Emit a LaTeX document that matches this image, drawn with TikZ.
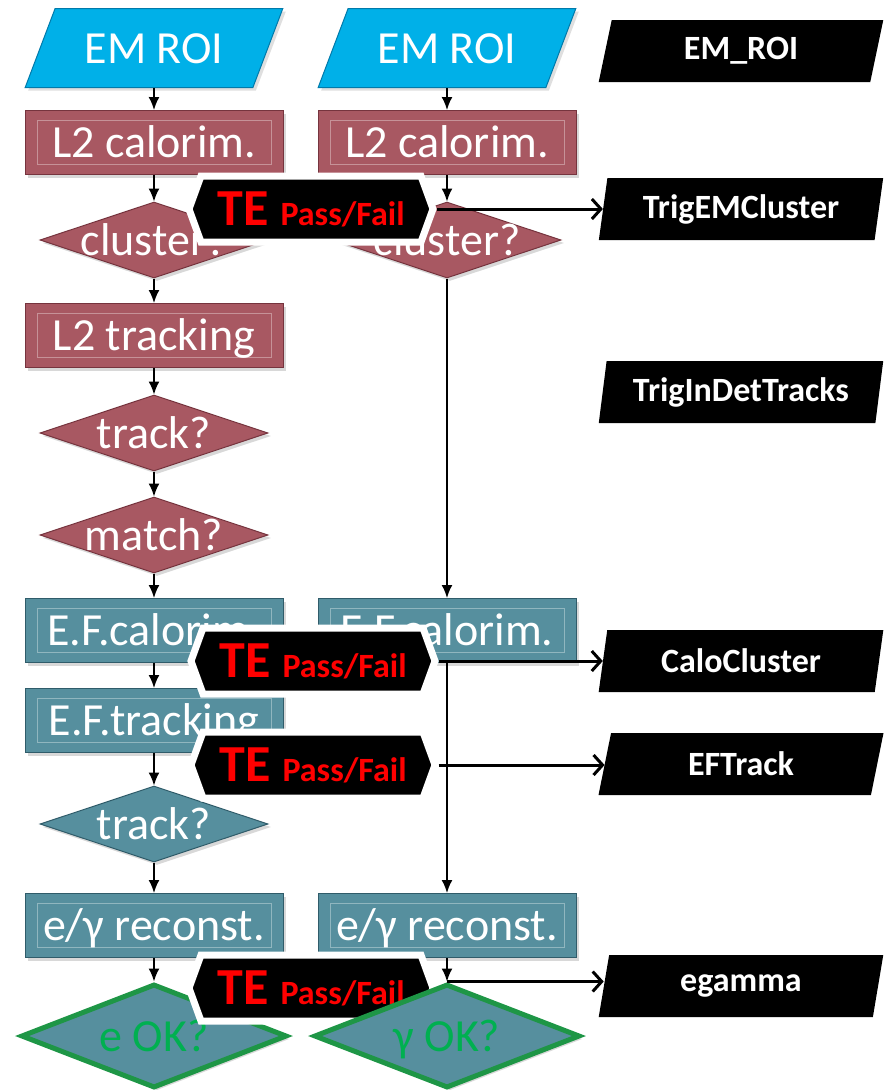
\documentclass[tikz,border=0pt]{standalone}
\usepackage{fontspec}
\setmainfont{Carlito}
\usepackage{tikz}
\usetikzlibrary{positioning,shapes.geometric,shapes.symbols,arrows.meta,shadows}

\definecolor{roiblue}{RGB}{0,176,232}
\definecolor{roiedge}{RGB}{0,122,170}
\definecolor{ltwored}{RGB}{168,88,98}
\definecolor{ltwoedge}{RGB}{118,52,62}
\definecolor{efteal}{RGB}{86,143,158}
\definecolor{efedge}{RGB}{48,92,106}
\definecolor{okgreen}{RGB}{0,176,80}
\definecolor{okedge}{RGB}{30,150,70}
\definecolor{tered}{RGB}{255,0,0}

\newcommand{\tepf}{{\fontsize{52}{54}\selectfont TE}\hspace{12pt}{\fontsize{34}{36}\selectfont Pass/Fail}}

\tikzset{
  flowtext/.style={text=white, font=\fontsize{46}{50}\selectfont, text height=30pt, text depth=0pt, inner sep=0pt},
  oktext/.style={flowtext, text=okgreen},
  bevel/.style={path picture={\draw[white, opacity=0.35, line width=0.8pt] ([xshift=12pt,yshift=-10pt]path picture bounding box.north west) rectangle ([xshift=-12pt,yshift=10pt]path picture bounding box.south east);}},
  roibox/.style={trapezium, trapezium left angle=55, trapezium right angle=125, trapezium stretches=true, minimum width=258pt, minimum height=79pt, inner sep=0pt, fill=roiblue, draw=roiedge, line width=1pt, drop shadow={opacity=0.25, shadow xshift=3pt, shadow yshift=-3pt}, flowtext},
  algobox/.style={rectangle, minimum width=258pt, minimum height=64pt, inner sep=0pt, line width=1pt, drop shadow={opacity=0.3, shadow xshift=3pt, shadow yshift=-3pt}, bevel, flowtext},
  ltwobox/.style={algobox, fill=ltwored, draw=ltwoedge},
  efbox/.style={algobox, fill=efteal, draw=efedge},
  decision/.style={diamond, minimum width=228pt, minimum height=76pt, inner sep=0pt, line width=1pt, drop shadow={opacity=0.3, shadow xshift=3pt, shadow yshift=-3pt}},
  ltwodec/.style={decision, fill=ltwored, draw=ltwoedge},
  efdec/.style={decision, fill=efteal, draw=efedge},
  okdec/.style={decision, minimum width=266pt, minimum height=104pt, fill=efteal, draw=okedge, line width=5pt},
  tebox/.style={signal, signal to=west and east, signal pointer angle=140, minimum width=244pt, minimum height=66pt, inner sep=0pt, fill=black, draw=white, line width=7pt, text=tered, font=\bfseries},
  sgbox/.style={trapezium, trapezium left angle=78, trapezium right angle=102, trapezium stretches=true, minimum width=285pt, minimum height=62pt, inner sep=0pt, fill=black, text=white, font=\fontsize{34}{36}\selectfont\bfseries},
  flow/.style={-{Latex[length=13pt,width=11pt]}, line width=1.8pt},
  feed/.style={-{Straight Barb[length=9pt,width=20pt]}, line width=3pt}
}

\begin{document}
\begin{tikzpicture}[x=1pt, y=-1pt]
\useasboundingbox[fill=white] (0,0) rectangle (885,1090);

\node[roibox] at (154,48)(roiL){EM ROI};
\node[roibox] at (447,48)(roiR){EM ROI};
\node[ltwobox] at (154,142.5)(calL){L2 calorim.};
\node[ltwobox] at (447,142.5)(calR){L2 calorim.};
\node[ltwodec, label={[flowtext]center:cluster?}] at (154,240)(cluL){};
\node[ltwodec, label={[flowtext]center:cluster?}] at (447,240)(cluR){};
\node[ltwobox] at (154,335.5)(trkL){L2 tracking};
\node[ltwodec, label={[flowtext]center:track?}] at (154,433)(trkdec){};
\node[ltwodec, label={[flowtext]center:match?}] at (154,535)(matchdec){};
\node[efbox] at (154,630.5)(efcL){E.F.calorim.};
\node[efbox] at (447,630.5)(efcR){E.F.calorim.};
\node[efbox] at (154,720.5)(eftL){E.F.tracking};
\node[efdec, label={[flowtext]center:track?}] at (154,824)(eftdec){};
\node[efbox] at (154,925.5)(recL){e/γ reconst.};
\node[efbox] at (447,925.5)(recR){e/γ reconst.};
\node[okdec, label={[oktext]center:e OK?}] at (154,1036)(okL){};

\draw[flow] (roiL.south) -- (calL.north);
\draw[flow] (calL.south) -- (cluL.north);
\draw[flow] (cluL.south) -- (trkL.north);
\draw[flow] (trkL.south) -- (trkdec.north);
\draw[flow] (trkdec.south) -- (matchdec.north);
\draw[flow] (matchdec.south) -- (efcL.north);
\draw[flow] (efcL.south) -- (eftL.north);
\draw[flow] (eftL.south) -- (eftdec.north);
\draw[flow] (eftdec.south) -- (recL.north);
\draw[flow] (recL.south) -- (okL.north);

\draw[flow] (roiR.south) -- (calR.north);
\draw[flow] (calR.south) -- (cluR.north);
\draw[flow] (cluR.south) -- (efcR.north);
\draw[flow] (efcR.south) -- (recR.north);

\node[sgbox] at (741,51)(sgRoi){EM\_ROI};
\node[sgbox] at (741,209)(sgClus){TrigEMCluster};
\node[sgbox] at (741,392)(sgTrk){TrigInDetTracks};
\node[sgbox] at (741,661)(sgCalo){CaloCluster};
\node[sgbox] at (741,764)(sgEF){EFTrack};
\node[sgbox] at (741,986)(sgEg){egamma};

\node[tebox] at (311,209)(te1){\tepf};
\node[tebox] at (313,661)(te2){\tepf};
\node[tebox] at (313,765)(te3){\tepf};
\node[tebox] at (311,988)(te4){\tepf};

\node[okdec, label={[oktext]center:γ OK?}] at (447,1036)(okR){};
\draw[flow] (recR.south) -- (okR.north);

\draw[feed] (te1.east) -- (te1.east -| sgClus.west);
\draw[feed] (te2.east) -- (te2.east -| sgCalo.west);
\draw[feed] (te3.east) -- (te3.east -| sgEF.west);
\draw[feed] (okR.north) -- (okR.north -| sgEg.west);
\end{tikzpicture}
\end{document}
